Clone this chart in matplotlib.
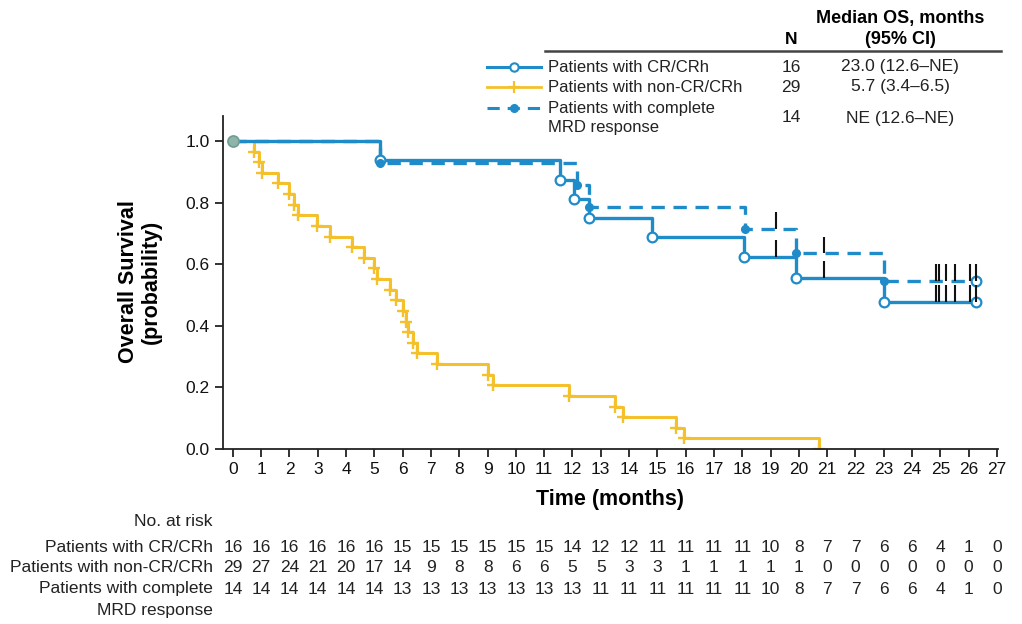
import numpy as np
import matplotlib.pyplot as plt
from matplotlib.transforms import blended_transform_factory

plt.rcParams['font.family'] = ['Liberation Sans', 'DejaVu Sans']

# times (months)
cr_events = [5.2, 11.55, 12.05, 12.6, 14.8, 18.05, 19.9, 23.0]
cr_censor = [19.2, 20.9, 24.85, 24.95, 25.2, 25.5, 26.05, 26.25]
mrd_events = [5.2, 12.15, 12.6, 18.1, 19.9, 23.0]
mrd_censor = [19.2, 20.9, 24.85, 24.95, 25.2, 25.5, 26.05, 26.25]
non_events = [0.73, 0.93, 1.02, 1.61, 1.97, 2.15, 2.3, 2.97, 3.44, 4.2,
              4.62, 4.97, 5.1, 5.56, 5.75, 6.0, 6.1, 6.2, 6.35, 6.5,
              7.2, 9.0, 9.2, 11.86, 13.5, 13.8, 15.65, 15.95, 20.7]
non_censor = []

months = list(range(28))
risk_cr = [16, 16, 16, 16, 16, 16, 15, 15, 15, 15, 15, 15, 14, 12, 12, 11, 11, 11, 11, 10, 8, 7, 7, 6, 6, 4, 1, 0]
risk_non = [29, 27, 24, 21, 20, 17, 14, 9, 8, 8, 6, 6, 5, 5, 3, 3, 1, 1, 1, 1, 1, 0, 0, 0, 0, 0, 0, 0]
risk_mrd = [14, 14, 14, 14, 14, 14, 13, 13, 13, 13, 13, 13, 13, 11, 11, 11, 11, 11, 11, 10, 8, 7, 7, 6, 6, 4, 1, 0]

groups = ['Patients with CR/CRh', 'Patients with non-CR/CRh', 'Patients with complete\nMRD response']
n_pat = ['16', '29', '14']
median_os = ['23.0 (12.6\u2013NE)', '5.7 (3.4\u20136.5)', 'NE (12.6\u2013NE)']

BLUE = '#1f8bc9'
YELLOW = '#f4c12c'


def km(events, censor):
    times = sorted(set(events + censor))
    at_risk = len(events) + len(censor)
    s = 1.0
    t_out, s_out = [0.0], [1.0]
    ev, cen = [], []
    for t in times:
        d = events.count(t)
        c = censor.count(t)
        if d:
            s *= (at_risk - d) / at_risk
            ev.append((t, s))
        if c:
            cen.append((t, s))
        t_out.append(t)
        s_out.append(s)
        at_risk -= d + c
    return t_out, s_out, ev, cen


fig = plt.figure(figsize=(10.22, 6.24), dpi=100)

ax = fig.add_axes([222.7 / 1022, (624 - 449) / 624, 775.7 / 1022, 1.08 * 308 / 624])
ax.set_xlim(-0.36, 27.05)
ax.set_ylim(0, 1.08)
ax.patch.set_alpha(0)

# overlay in pixel coords for the text tables
ov = fig.add_axes([0, 0, 1, 1], zorder=5)
ov.set_xlim(0, 1022)
ov.set_ylim(624, 0)
ov.axis('off')

# non-CR/CRh
t, s, ev, cen = km(non_events, non_censor)
ax.step(t, s, where='post', color=YELLOW, lw=2.2, zorder=2)
ex, ey = zip(*ev)
ax.plot(ex, ey, '+', color=YELLOW, ms=8, mew=1.7, zorder=2)

# CR/CRh
t, s, ev, cen = km(cr_events, cr_censor)
ax.step(t, s, where='post', color=BLUE, lw=2.4, zorder=4)
ex, ey = zip(*ev)
ax.plot(ex, ey, 'o', mfc='white', mec=BLUE, ms=7, mew=1.6, zorder=5)
cx, cy = zip(*cen)
ax.vlines(cx, cy, np.array(cy) + 0.055, color='#111111', lw=1.5, zorder=6)
ax.plot(cx[-1], cy[-1], 'o', mfc='white', mec=BLUE, ms=7, mew=1.6, zorder=5)

# complete MRD response
t, s, ev, cen = km(mrd_events, mrd_censor)
ax.step(t, s, where='post', color=BLUE, lw=2.4, dashes=(4, 2.6), zorder=3)
ex, ey = zip(*ev)
ax.plot(ex, ey, 'o', color=BLUE, ms=5.5, zorder=5)
cx, cy = zip(*cen)
ax.vlines(cx, cy, np.array(cy) + 0.055, color='#111111', lw=1.5, zorder=6)
ax.plot(cx[-1], cy[-1], 'o', mfc='white', mec=BLUE, ms=7, mew=1.6, zorder=5)

ax.plot(0, 1, 'o', mfc='#8fb5a9', mec='#6f9c98', ms=8, mew=1.2, zorder=7, clip_on=False)

for sp in ['top', 'right']:
    ax.spines[sp].set_visible(False)
for sp in ['left', 'bottom']:
    ax.spines[sp].set_linewidth(1.3)
    ax.spines[sp].set_color('#222222')
ax.set_xticks(months)
ax.set_yticks([0, 0.2, 0.4, 0.6, 0.8, 1.0])
ax.set_yticklabels(['0.0', '0.2', '0.4', '0.6', '0.8', '1.0'])
ax.tick_params(axis='both', direction='out', length=6, width=1.3, colors='#222222',
               labelsize=12.5, labelcolor='#111111')

ov.text(140, 282, 'Overall Survival\n(probability)', rotation=90, ha='center', va='center',
        fontsize=15.5, fontweight='bold', multialignment='center', linespacing=1.15)
ov.text(610, 500, 'Time (months)', ha='center', va='center', fontsize=15.5, fontweight='bold')

# number at risk
tr = blended_transform_factory(ax.transData, ov.transData)
ov.text(213, 521, 'No. at risk', ha='right', va='center', fontsize=12.5, color='#222222')
row_y = [547, 568, 589]
row_lab = ['Patients with CR/CRh', 'Patients with non-CR/CRh', 'Patients with complete']
for y, lab, vals in zip(row_y, row_lab, [risk_cr, risk_non, risk_mrd]):
    ov.text(213, y, lab, ha='right', va='center', fontsize=12.5, color='#222222')
    for m, v in zip(months, vals):
        ov.text(m, y, str(v), transform=tr, ha='center', va='center', fontsize=12.5, color='#222222')
ov.text(213, 610, 'MRD response', ha='right', va='center', fontsize=12.5, color='#222222')

# legend table
ov.text(791, 40, 'N', ha='center', va='center', fontsize=12.5, fontweight='bold')
ov.text(900, 18, 'Median OS, months', ha='center', va='center', fontsize=13, fontweight='bold')
ov.text(900, 40, '(95% CI)', ha='center', va='center', fontsize=13, fontweight='bold')
ov.plot([545, 1001], [51, 51], color='#444444', lw=1.8)

leg_y = [67, 87, 118]
ov.plot([487, 541], [67, 67], color=BLUE, lw=2.2)
ov.plot(514, 67, 'o', mfc='white', mec=BLUE, ms=6, mew=1.5)
ov.plot([487, 541], [87, 87], color=YELLOW, lw=2.0)
ov.plot(514, 87, '+', color=YELLOW, ms=8, mew=1.6)
ov.plot([487, 541], [108, 108], color=BLUE, lw=2.2, dashes=(4, 2.6))
ov.plot(514, 108, 'o', color=BLUE, ms=5.5)

for y, g, n, med in zip(leg_y, groups, n_pat, median_os):
    ov.text(548, y, g, ha='left', va='center', fontsize=12, color='#222222', linespacing=1.3)
    ov.text(791, y, n, ha='center', va='center', fontsize=12.5, color='#222222')
    ov.text(900, y, med, ha='center', va='center', fontsize=12.5, color='#222222')

fig.savefig('out.png', dpi=100)
